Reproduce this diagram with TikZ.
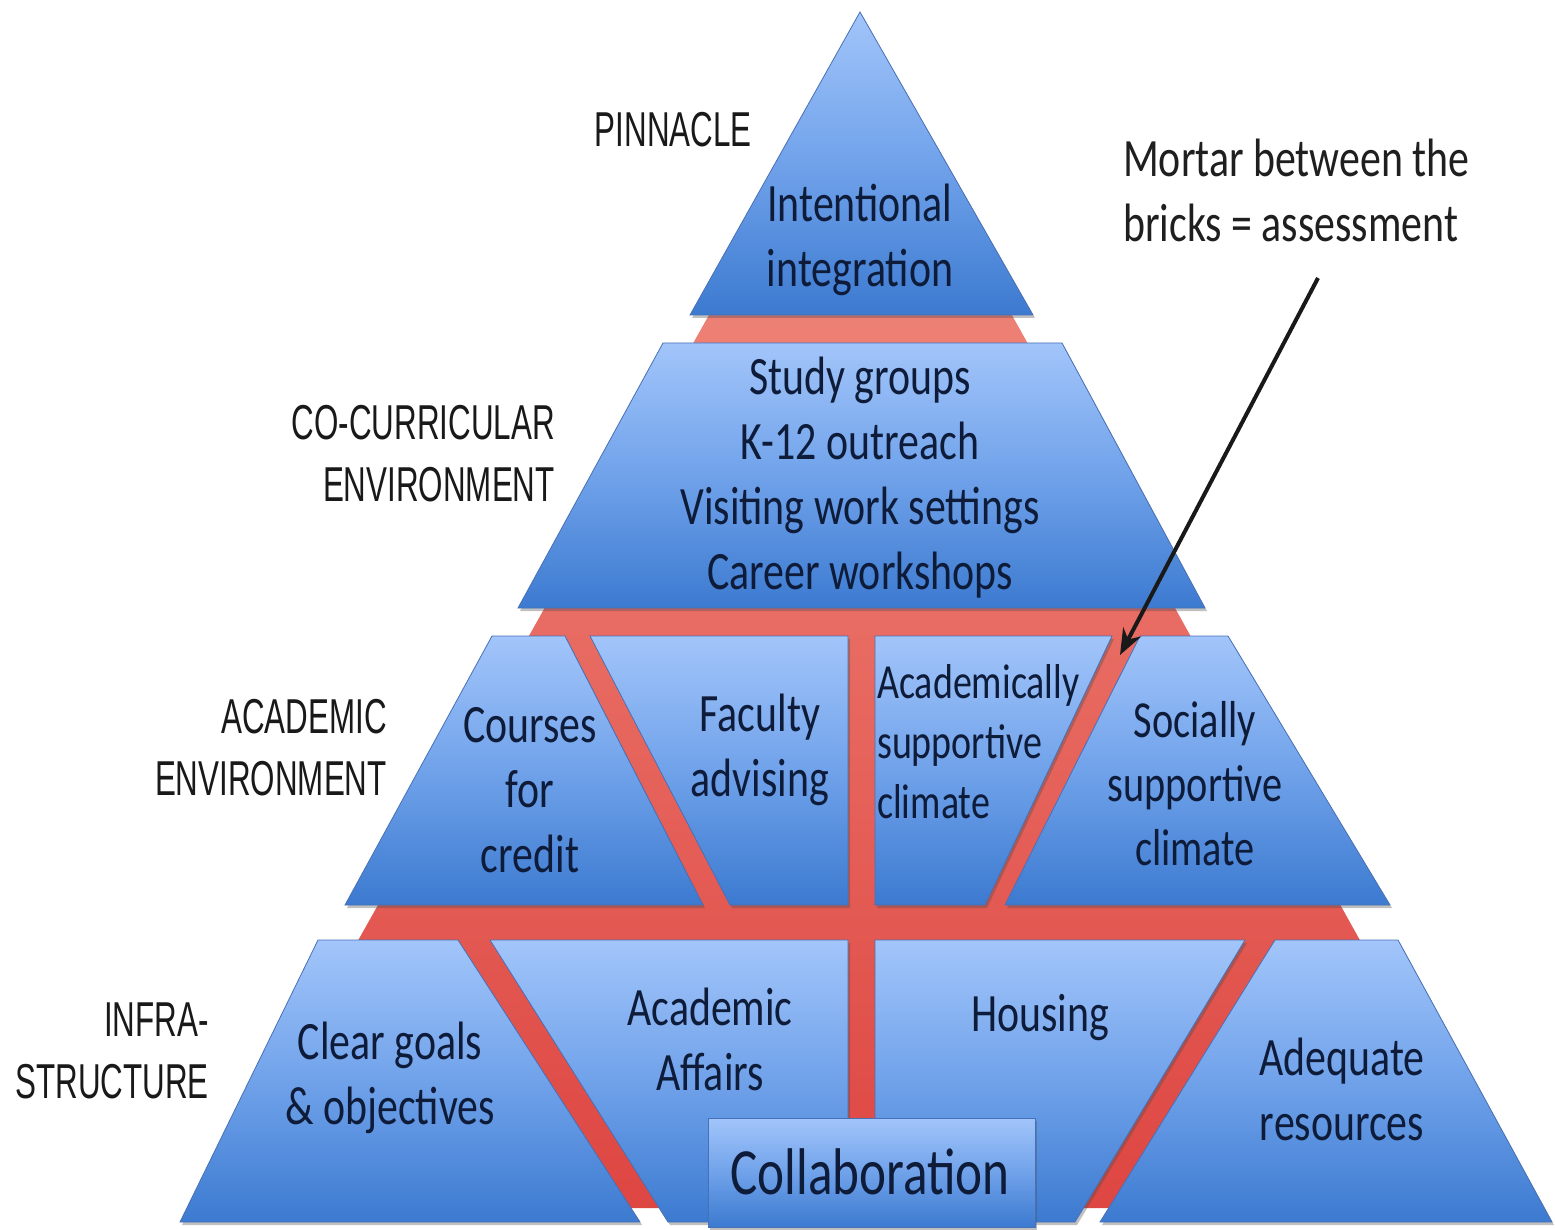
\documentclass[tikz,border=0pt]{standalone}
\usepackage{fontspec}
\usetikzlibrary{arrows.meta,shadows}
\newfontfamily\brickfont[FakeStretch=0.775]{Carlito}
\newfontfamily\labelfont[FakeStretch=0.64]{Liberation Sans}
\definecolor{bricktop}{RGB}{162,197,250}
\definecolor{brickmid}{RGB}{112,162,234}
\definecolor{brickbot}{RGB}{60,122,208}
\definecolor{brickline}{RGB}{72,112,182}
\definecolor{mortartop}{RGB}{242,146,132}
\definecolor{mortarbot}{RGB}{222,70,66}
\definecolor{textnavy}{RGB}{14,28,58}
\tikzset{
  brick/.style={draw=brickline, line width=0.8pt, top color=bricktop, bottom color=brickbot, middle color=brickmid,
    drop shadow={shadow xshift=2pt, shadow yshift=-3pt, opacity=0.35, fill=black!70}},
  bricktext/.style={font=\brickfont\fontsize{54}{65}\selectfont, text=textnavy, align=center, inner sep=0pt},
  smalltext/.style={font=\brickfont\fontsize{49}{60}\selectfont, text=textnavy, align=left, inner sep=0pt},
  levellabel/.style={font=\labelfont\fontsize{49}{62}\selectfont, text=black!90, align=right, anchor=east, inner sep=0pt},
  notetext/.style={font=\brickfont\fontsize{54}{65}\selectfont, text=black!88, align=left, anchor=west, inner sep=0pt},
}
\begin{document}
\begin{tikzpicture}[x=1pt,y=-1pt]
\useasboundingbox (0,0) rectangle (1555,1230);
\fill[white] (0,0) rectangle (1555,1230);
% mortar
\path[top color=mortartop, bottom color=mortarbot] (861,44) -- (1509,1208) -- (208,1208) -- cycle;
% pinnacle
\path[brick] (860,12) -- (1033,315) -- (690,315) -- cycle;
% co-curricular
\path[brick] (663,343) -- (1062,343) -- (1205,608) -- (518,608) -- cycle;
% academic row
\path[brick] (492,636) -- (565,636) -- (703,905) -- (345,905) -- cycle;
\path[brick] (590,636) -- (848,636) -- (848,905) -- (730,905) -- cycle;
\path[brick] (875,636) -- (1112,636) -- (985,905) -- (875,905) -- cycle;
\path[brick] (1140,636) -- (1228,636) -- (1390,905) -- (1005,905) -- cycle;
% infrastructure row
\path[brick] (318,940) -- (458,940) -- (640,1222) -- (180,1222) -- cycle;
\path[brick] (490,940) -- (848,940) -- (848,1222) -- (668,1222) -- cycle;
\path[brick] (875,940) -- (1245,940) -- (1075,1222) -- (875,1222) -- cycle;
\path[brick] (1275,940) -- (1398,940) -- (1552,1222) -- (1100,1222) -- cycle;
\path[brick] (708,1118) rectangle (1035,1227);
% brick texts
\node[bricktext] (pin) at (860,240) {Intentional\\integration};
\node[bricktext] (cocur) at (860,478) {Study groups\\K-12 outreach\\Visiting work settings\\Career workshops};
\node[bricktext] (courses) at (530,790) {Courses\\for\\credit};
\node[bricktext] (faculty) at (760,750) {Faculty\\advising};
\node[smalltext, anchor=west] (acad) at (877,742) {Academically\\supportive\\climate};
\node[bricktext, font=\brickfont\fontsize{52}{64}\selectfont] (social) at (1195,784) {Socially\\supportive\\climate};
\node[bricktext] (goals) at (390,1078) {Clear goals\\\& objectives};
\node[bricktext] (affairs) at (710,1039) {Academic\\Affairs};
\node[bricktext] (housing) at (1040,1018) {Housing};
\node[bricktext] (resources) at (1342,1089) {Adequate\\resources};
\node[bricktext, font=\brickfont\fontsize{66}{70}\selectfont] (collab) at (870,1172) {Collaboration};
% level labels
\node[levellabel] (lpin) at (752,130) {PINNACLE};
\node[levellabel] (lcocur) at (555,454) {CO-CURRICULAR\\ENVIRONMENT};
\node[levellabel] (lacad) at (387,748) {ACADEMIC\\ENVIRONMENT};
\node[levellabel] (linfra) at (209,1051) {INFRA-\\STRUCTURE};
% note and arrow
\node[notetext] (note) at (1123,190) {Mortar between the\\bricks = assessment};
\coordinate (arrS) at (1318,278);
\coordinate (arrE) at (1120,655);
\draw[line width=4pt, black!90, -{Stealth[length=26pt,width=20pt]}] (arrS) -- (arrE);
\end{tikzpicture}
\end{document}
